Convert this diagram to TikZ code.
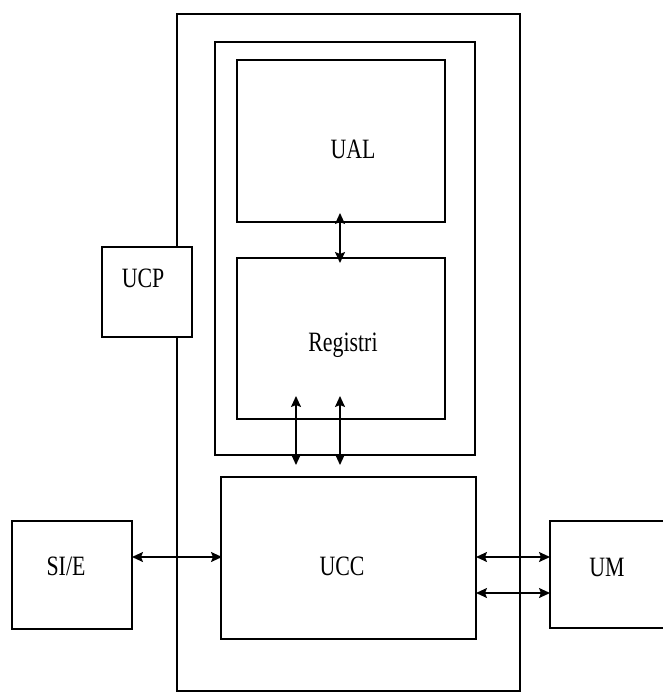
\documentclass[tikz,border=0pt]{standalone}
\usepackage{fontspec}
\usepackage{graphicx}
\setmainfont{Liberation Serif}
\usetikzlibrary{arrows.meta}
\tikzset{
  box/.style={draw, line width=1.8pt, inner sep=0pt, outer sep=0pt, fill=white},
  lbl/.style={anchor=base, inner sep=0pt, font=\fontsize{28}{30}\selectfont},
  tip/.style={Stealth[length=11pt,width=10pt,inset=2pt]},
  link/.style={line width=1.6pt, {Stealth[length=11pt,width=10pt,inset=2pt]}-{Stealth[length=11pt,width=10pt,inset=2pt]}}
}
\newcommand{\sq}[1]{\scalebox{0.78}[1]{#1}}
\begin{document}
\begin{tikzpicture}[x=1pt,y=-1pt]
\useasboundingbox (0,0) rectangle (663,693);
\clip (0,0) rectangle (663,693);
\fill[white] (0,0) rectangle (663,693);
% boxes
\node[box, minimum width=343pt, minimum height=677pt] (outer) at (348.5,352.5) {};
\node[box, minimum width=260pt, minimum height=413pt] (inner) at (345,248.5) {};
\node[box, minimum width=208pt, minimum height=162pt] (ual) at (341,141) {};
\node[box, minimum width=208pt, minimum height=161pt] (reg) at (341,338.5) {};
\node[box, minimum width=255pt, minimum height=162pt] (ucc) at (348.5,558) {};
\node[box, minimum width=90pt, minimum height=90pt] (ucp) at (147,292) {};
\node[box, minimum width=120pt, minimum height=108pt] (sie) at (72,575) {};
\node[box, minimum width=140pt, minimum height=107pt] (um) at (620,574.5) {};
% labels
\node[lbl] (tual) at (353,158) {\sq{UAL}};
\node[lbl] (treg) at (343,351) {\sq{Registri}};
\node[lbl] (tucc) at (342,575) {\sq{UCC}};
\node[lbl] (tucp) at (143,287) {\sq{UCP}};
\node[lbl] (tsie) at (66,575) {\sq{SI/E}};
\node[lbl] (tum) at (607,576) {\sq{UM}};
% connector end points
\coordinate (a1) at (340,213);
\coordinate (a2) at (340,263);
\coordinate (b1) at (296,396);
\coordinate (b2) at (296,465);
\coordinate (c1) at (340,396);
\coordinate (c2) at (340,465);
\coordinate (d1) at (132,557);
\coordinate (d2) at (222,557);
\coordinate (e1) at (476,557);
\coordinate (e2) at (550,557);
\coordinate (f1) at (476,593);
\coordinate (f2) at (550,593);
\draw[link] (a1) -- (a2);
\draw[link] (b1) -- (b2);
\draw[link] (c1) -- (c2);
\draw[link] (d1) -- (d2);
\draw[link] (e1) -- (e2);
\draw[link] (f1) -- (f2);
\end{tikzpicture}
\end{document}
